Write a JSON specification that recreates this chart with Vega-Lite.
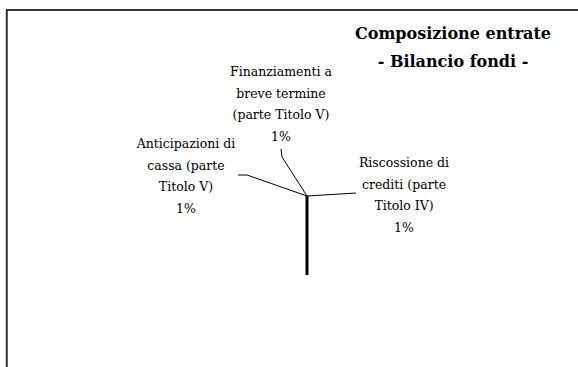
{
  "$schema": "https://vega.github.io/schema/vega-lite/v6.json",
  "width": 578,
  "height": 367,
  "autosize": {"type": "none"},
  "padding": 0,
  "background": "white",
  "config": {"view": {"stroke": null}},
  "datasets": {
    "paths": [
      {"kind": "frame", "id": "frame", "ord": 1, "x": -300.2, "y": -175},
      {"kind": "frame", "id": "frame", "ord": 2, "x": -300.2, "y": 186},
      {"kind": "frame", "id": "frame", "ord": 3, "x": 275, "y": 186},
      {"kind": "radius", "id": "radius", "ord": 1, "x": 0, "y": 0},
      {"kind": "radius", "id": "radius", "ord": 2, "x": 0, "y": -79},
      {"kind": "leader", "id": "fin", "ord": 1, "x": 0, "y": 0},
      {"kind": "leader", "id": "fin", "ord": 2, "x": -25, "y": 39},
      {"kind": "leader", "id": "fin", "ord": 3, "x": -26, "y": 47},
      {"kind": "leader", "id": "ant", "ord": 1, "x": 0, "y": 0},
      {"kind": "leader", "id": "ant", "ord": 2, "x": -60, "y": 21},
      {"kind": "leader", "id": "ant", "ord": 3, "x": -69, "y": 21},
      {"kind": "leader", "id": "ris", "ord": 1, "x": 0, "y": 0},
      {"kind": "leader", "id": "ris", "ord": 2, "x": 49, "y": 3}
    ],
    "labels": [
      {"kind": "label", "text": "Finanziamenti a\nbreve termine\n(parte Titolo V)\n1%", "x": -26, "y": 120},
      {"kind": "label", "text": "Anticipazioni di\ncassa (parte\nTitolo V)\n1%", "x": -121, "y": 48},
      {"kind": "label", "text": "Riscossione di\ncrediti (parte\nTitolo IV)\n1%", "x": 97, "y": 29},
      {"kind": "title", "text": "Composizione entrate\n- Bilancio fondi -", "x": 146, "y": 157}
    ]
  },
  "encoding": {
    "x": {"field": "x", "type": "quantitative", "scale": {"domain": [-307, 271], "nice": false, "zero": false}, "axis": null},
    "y": {"field": "y", "type": "quantitative", "scale": {"domain": [-171, 196], "nice": false, "zero": false}, "axis": null}
  },
  "layer": [
    {
      "data": {"name": "paths"},
      "transform": [{"filter": "datum.kind === 'frame'"}],
      "mark": {"type": "line", "color": "#333333", "strokeWidth": 2, "clip": false},
      "encoding": {"detail": {"field": "id"}, "order": {"field": "ord", "type": "quantitative"}}
    },
    {
      "data": {"name": "paths"},
      "transform": [{"filter": "datum.kind === 'leader'"}],
      "mark": {"type": "line", "color": "#000000", "strokeWidth": 1},
      "encoding": {"detail": {"field": "id"}, "order": {"field": "ord", "type": "quantitative"}}
    },
    {
      "data": {"name": "paths"},
      "transform": [{"filter": "datum.kind === 'radius'"}],
      "mark": {"type": "line", "color": "#000000", "strokeWidth": 3},
      "encoding": {"detail": {"field": "id"}, "order": {"field": "ord", "type": "quantitative"}}
    },
    {
      "data": {"name": "labels"},
      "transform": [{"filter": "datum.kind === 'label'"}],
      "mark": {"type": "text", "font": "DejaVu Serif", "fontSize": 12.5, "align": "center", "baseline": "alphabetic", "lineBreak": "\n", "lineHeight": 21.5, "color": "#000000"},
      "encoding": {"text": {"field": "text"}}
    },
    {
      "data": {"name": "labels"},
      "transform": [{"filter": "datum.kind === 'title'"}],
      "mark": {"type": "text", "font": "DejaVu Serif", "fontSize": 16, "fontWeight": "bold", "align": "center", "baseline": "alphabetic", "lineBreak": "\n", "lineHeight": 27.5, "color": "#000000"},
      "encoding": {"text": {"field": "text"}}
    }
  ]
}
